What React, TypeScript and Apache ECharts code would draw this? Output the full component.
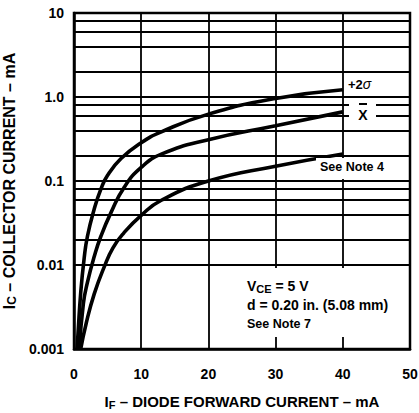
import React, { useEffect, useRef } from "react";
import * as echarts from "echarts";

const FONT = "'Liberation Sans', Arial, sans-serif";

// X tick positions / labels
const xTicks = [0, 10, 20, 30, 40, 50];
// Y decade tick labels (log axis 0.001 .. 10)
const yTickLabels = ["0.001", "0.01", "0.1", "1.0", "10"];
// Horizontal grid lines drawn in the reference
const yGridValues = [
  0.002, 0.004, 0.006, 0.008, 0.01, 0.02, 0.04, 0.06, 0.08, 0.1, 0.2, 0.4, 0.6,
  0.8, 1, 2, 4, 6, 8,
];

// Series (IF mA, IC mA)
const upperIF = [0.45, 0.6, 1.0, 1.5, 2, 3, 4, 5, 7, 10, 13, 20, 30, 40];
const upperIC = [0.001, 0.00155, 0.0047, 0.0118, 0.022, 0.046, 0.08, 0.117, 0.185, 0.286, 0.385, 0.625, 0.96, 1.22];

const meanIF = [0.8, 1.4, 2, 3, 4, 5.5, 7.5, 10, 13, 20, 30, 40];
const meanIC = [0.001, 0.0035, 0.0062, 0.0125, 0.022, 0.042, 0.085, 0.145, 0.209, 0.31, 0.455, 0.665];

const lowerIF = [1.0, 1.8, 3, 4.5, 5.8, 7.4, 10, 13, 20, 30, 40];
const lowerIC = [0.001, 0.002, 0.0045, 0.0095, 0.016, 0.024, 0.039, 0.059, 0.1, 0.15, 0.21];

const zip = (xs: number[], ys: number[]) => xs.map((x, i) => [x, ys[i]]);

export default function App() {
  const ref = useRef<HTMLDivElement>(null);
  useEffect(() => {
    document.body.style.margin = "0";
    const chart = echarts.init(ref.current!, null, { renderer: "svg" });
    const curve = (data: number[][]) => ({
      type: "line",
      data,
      smooth: 0.5,
      showSymbol: false,
      symbol: "none",
      z: 5,
      lineStyle: { color: "#000", width: 3.6 },
      silent: true,
    });
    const rich = (size: number) => ({
      a: { fontSize: size, fontWeight: "bold", fontFamily: FONT, color: "#000", lineHeight: size + 2 },
      b: { fontSize: size - 4, fontWeight: "bold", fontFamily: FONT, color: "#000", lineHeight: size + 2, padding: [6, 0, 0, 0] },
    });
    chart.setOption({
      animation: false,
      backgroundColor: "#fff",
      grid: {
        left: 74,
        right: 9,
        top: 13,
        bottom: 64,
        containLabel: false,
        outerBoundsMode: "none",
        show: true,
        borderColor: "#000",
        borderWidth: 2.5,
        backgroundColor: "transparent",
      },
      xAxis: {
        type: "value",
        min: xTicks[0],
        max: xTicks[xTicks.length - 1],
        interval: 10,
        axisLine: { show: true, lineStyle: { color: "#000", width: 2.5 } },
        axisTick: { show: false },
        splitLine: { show: true, lineStyle: { color: "#000", width: 1.8 } },
        axisLabel: {
          color: "#000",
          fontSize: 14,
          fontWeight: "bold",
          fontFamily: FONT,
          margin: 18,
          formatter: (v: number) => String(v),
        },
        name: "{a|I}{b|F}{a| – DIODE FORWARD CURRENT – mA}",
        nameLocation: "middle",
        nameGap: 44,
        nameTextStyle: { rich: rich(15) },
      },
      yAxis: {
        type: "log",
        logBase: 10,
        min: 0.001,
        max: 10,
        axisLine: { show: true, lineStyle: { color: "#000", width: 2.5 } },
        axisTick: { show: false },
        splitLine: { show: false },
        minorTick: { show: false },
        axisLabel: {
          color: "#000",
          fontSize: 14,
          fontWeight: "bold",
          fontFamily: FONT,
          margin: 10,
          formatter: (v: number) => yTickLabels[Math.round(Math.log10(v)) + 3] ?? "",
        },
        name: "{a|I}{b|C}{a| – COLLECTOR CURRENT – mA}",
        nameLocation: "middle",
        nameGap: 43,
        nameRotate: 90,
        nameTextStyle: { rich: rich(16) },
      },
      series: [
        {
          type: "line",
          data: [],
          z: 1,
          silent: true,
          markLine: {
            silent: true,
            symbol: ["none", "none"],
            label: { show: false },
            lineStyle: { color: "#000", type: "solid", width: 1.8 },
            data: yGridValues.map((v) => ({ yAxis: v })),
          },
        },
        curve(zip(upperIF, upperIC)),
        curve(zip(meanIF, meanIC)),
        curve(zip(lowerIF, lowerIC)),
      ],
      graphic: [
        // white label boxes
        { type: "rect", z: 10, shape: { x: 349, y: 99, width: 27, height: 22 }, style: { fill: "#fff" } },
        { type: "rect", z: 10, shape: { x: 316, y: 158, width: 82, height: 21 }, style: { fill: "#fff" } },
        { type: "rect", z: 10, shape: { x: 237, y: 268, width: 165, height: 69 }, style: { fill: "#fff" } },
        {
          type: "text",
          z: 11,
          x: 348,
          y: 84,
          style: {
            text: "{a|+2}{s|σ}",
            verticalAlign: "middle",
            rich: {
              a: { fontSize: 13, fontWeight: "bold", fontFamily: FONT, fill: "#000" },
              s: { fontSize: 14, fontStyle: "italic", fontFamily: FONT, fill: "#000" },
            },
          },
        },
        {
          type: "text",
          z: 11,
          x: 363,
          y: 115,
          style: { text: "X", fontSize: 14, fontWeight: "bold", fontFamily: FONT, fill: "#000", align: "center", verticalAlign: "middle" },
        },
        { type: "rect", z: 11, shape: { x: 359, y: 103, width: 8, height: 2 }, style: { fill: "#000" } },
        {
          type: "text",
          z: 11,
          x: 320,
          y: 167,
          style: { text: "See Note 4", fontSize: 12.5, fontWeight: "bold", fontFamily: FONT, fill: "#000", verticalAlign: "middle" },
        },
        {
          type: "text",
          z: 11,
          x: 247,
          y: 286,
          style: {
            text: "{a|V}{b|CE}{a| = 5 V}",
            verticalAlign: "middle",
            rich: {
              a: { fontSize: 14, fontWeight: "bold", fontFamily: FONT, fill: "#000", lineHeight: 16 },
              b: { fontSize: 11, fontWeight: "bold", fontFamily: FONT, fill: "#000", lineHeight: 16, padding: [5, 0, 0, 0] },
            },
          },
        },
        {
          type: "text",
          z: 11,
          x: 247,
          y: 305,
          style: { text: "d = 0.20 in. (5.08 mm)", fontSize: 14, fontWeight: "bold", fontFamily: FONT, fill: "#000", verticalAlign: "middle" },
        },
        {
          type: "text",
          z: 11,
          x: 247,
          y: 324,
          style: { text: "See Note 7", fontSize: 12.5, fontWeight: "bold", fontFamily: FONT, fill: "#000", verticalAlign: "middle" },
        },
      ],
    });
    return () => chart.dispose();
  }, []);
  return (
    <div
      ref={ref}
      style={{ position: "fixed", left: 0, top: 0, width: 419, height: 413, background: "#fff" }}
    />
  );
}
